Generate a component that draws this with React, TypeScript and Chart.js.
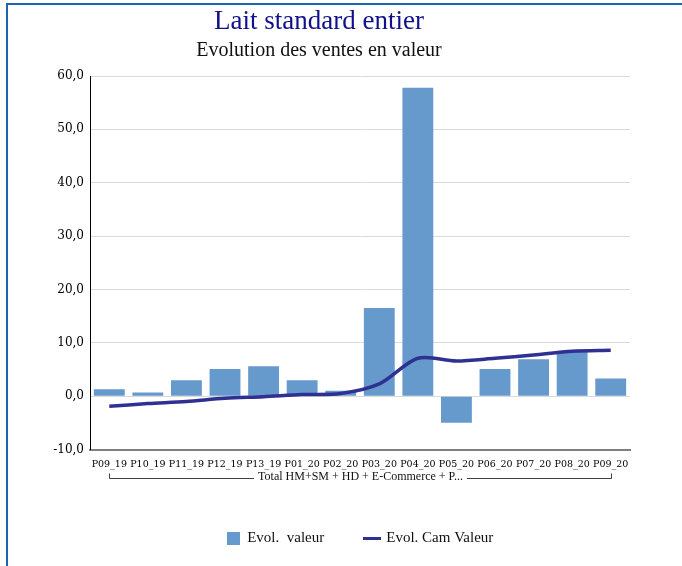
import React, { useEffect, useRef } from "react";
import { Chart, registerables } from "chart.js";

Chart.register(...registerables);

const categories = ["P09_19", "P10_19", "P11_19", "P12_19", "P13_19", "P01_20", "P02_20", "P03_20", "P04_20", "P05_20", "P06_20", "P07_20", "P08_20", "P09_20"];
const evolValeur = [1.3, 0.7, 3.0, 5.1, 5.6, 3.0, 1.0, 16.5, 57.8, -5.0, 5.1, 6.9, 8.5, 3.3];
const evolCamValeur = [-1.9, -1.4, -1.0, -0.4, -0.1, 0.3, 0.5, 2.3, 7.1, 6.6, 7.1, 7.7, 8.4, 8.6];
const yMin = -10;
const yMax = 60;
const yStep = 10;
const seriesNames = ["Evol.  valeur", "Evol. Cam Valeur"];
const titleText = "Lait standard entier";
const subtitleText = "Evolution des ventes en valeur";
const groupLabel = "Total HM+SM + HD + E-Commerce + P...";

const BAR_COLOR = "#6699cc";
const LINE_COLOR = "#2e3192";

export default function App() {
  const ref = useRef<HTMLCanvasElement | null>(null);

  useEffect(() => {
    if (!ref.current) return;

    const sq = document.createElement("canvas");
    sq.width = 13;
    sq.height = 13;
    const sqc = sq.getContext("2d")!;
    sqc.fillStyle = BAR_COLOR;
    sqc.fillRect(0, 0, 13, 13);

    const ln = document.createElement("canvas");
    ln.width = 18;
    ln.height = 3;
    const lnc = ln.getContext("2d")!;
    lnc.fillStyle = LINE_COLOR;
    lnc.fillRect(0, 0, 18, 3);

    const bracket = {
      id: "groupBracket",
      afterDraw(chart: any) {
        const { ctx, chartArea } = chart;
        const x = chart.scales.x;
        const xl = Math.round(x.getPixelForValue(0)) + 0.5;
        const xr = Math.round(x.getPixelForValue(categories.length - 1)) + 0.5;
        const yl = Math.round(chartArea.bottom + 28) + 0.5;
        const yt = yl - 5;
        ctx.save();
        ctx.font = '12px "Liberation Serif"';
        const w = ctx.measureText(groupLabel).width;
        const cx = (xl + xr) / 2;
        ctx.strokeStyle = "#404040";
        ctx.lineWidth = 1;
        ctx.beginPath();
        ctx.moveTo(xl, yt);
        ctx.lineTo(xl, yl);
        ctx.lineTo(cx - w / 2 - 4, yl);
        ctx.moveTo(cx + w / 2 + 4, yl);
        ctx.lineTo(xr, yl);
        ctx.lineTo(xr, yt);
        ctx.stroke();
        ctx.fillStyle = "#111";
        ctx.textAlign = "center";
        ctx.textBaseline = "middle";
        ctx.fillText(groupLabel, cx, yl - 2);
        ctx.restore();
      },
    };

    const chart = new Chart(ref.current, {
      type: "bar",
      data: {
        labels: categories,
        datasets: [
          {
            type: "bar",
            label: seriesNames[0],
            data: evolValeur,
            backgroundColor: BAR_COLOR,
            borderWidth: 0,
            barPercentage: 0.8,
            categoryPercentage: 1,
            order: 1,
          },
          {
            type: "line",
            label: seriesNames[1],
            data: evolCamValeur,
            borderColor: LINE_COLOR,
            backgroundColor: LINE_COLOR,
            borderWidth: 3.5,
            pointRadius: 0,
            tension: 0.3,
            order: 0,
          },
        ] as any,
      },
      options: {
        responsive: false,
        animation: false,
        devicePixelRatio: 1,
        layout: { padding: { left: 0, right: 10, top: 0, bottom: 10 } },
        plugins: {
          tooltip: { enabled: false },
          title: {
            display: true,
            text: titleText,
            color: "#10108c",
            font: { family: "Liberation Serif", size: 27, weight: "normal" },
            padding: { top: 1, bottom: 0 },
          },
          subtitle: {
            display: true,
            text: subtitleText,
            color: "#111",
            font: { family: "Liberation Serif", size: 20, weight: "normal" },
            padding: { top: 0, bottom: 13.6 },
          },
          legend: {
            position: "bottom",
            fullSize: false,
            labels: {
              usePointStyle: true,
              boxWidth: 13,
              boxHeight: 13,
              padding: 41.5,
              color: "#111",
              font: { family: "Liberation Serif", size: 15 },
              sort: (a: any, b: any) => a.datasetIndex - b.datasetIndex,
              generateLabels: (c: any) => {
                const items = Chart.defaults.plugins.legend.labels.generateLabels(c);
                return items.map((it: any) => ({
                  ...it,
                  pointStyle: it.datasetIndex === 0 ? sq : ln,
                }));
              },
            },
          },
        },
        scales: {
          x: {
            grid: { display: false, drawTicks: false },
            border: { display: true, color: "#7f7f7f", width: 2 },
            ticks: {
              autoSkip: false,
              maxRotation: 0,
              minRotation: 0,
              padding: 9,
              color: "#000",
              font: { family: "DejaVu Serif", size: 9.5 },
            },
            afterFit: (s: any) => {
              s.height = 40;
            },
          },
          y: {
            min: yMin,
            max: yMax,
            grid: { color: "#d9d9d9", drawTicks: false },
            border: { display: true, color: "#000", width: 1 },
            ticks: {
              stepSize: yStep,
              padding: 6,
              color: "#000",
              font: { family: "DejaVu Serif", size: 12 },
              callback: (v: any) => Number(v).toFixed(1).replace(".", ","),
            },
            afterFit: (s: any) => {
              s.width = 82;
            },
          },
        },
      },
      plugins: [bracket],
    });

    return () => chart.destroy();
  }, []);

  return (
    <div style={{ position: "fixed", left: 0, top: 0, width: 682, height: 566, background: "#fff", overflow: "hidden" }}>
      <div
        style={{
          position: "absolute",
          left: 6,
          top: 3,
          width: 800,
          height: 700,
          borderTop: "2px solid #1e64b4",
          borderLeft: "2px solid #1e64b4",
        }}
      />
      <canvas ref={ref} width={632} height={561} style={{ position: "absolute", left: 8, top: 5, width: 632, height: 561 }} />
    </div>
  );
}
